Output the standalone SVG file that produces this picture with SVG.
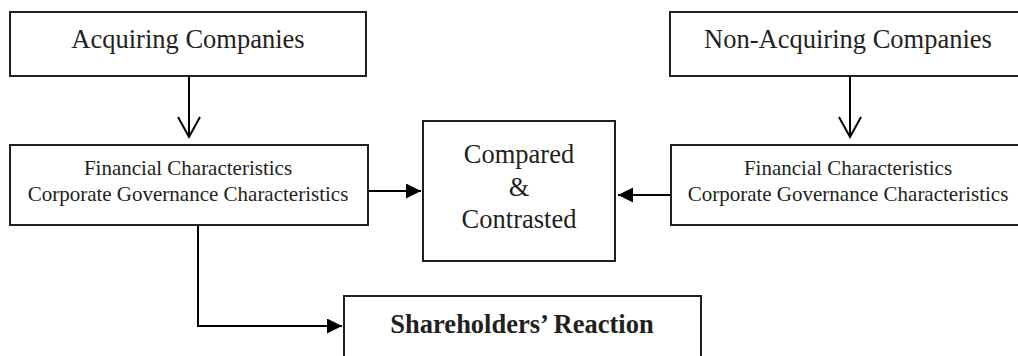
<svg xmlns="http://www.w3.org/2000/svg" width="1018" height="356" viewBox="0 0 1018 356">
<style>
.box{fill:#fff;stroke:#231f20;stroke-width:2}
.t{font-family:"Liberation Serif","Times New Roman",serif;fill:#231f20;text-anchor:middle}
.big{font-size:26.5px}
.small{font-size:21px}
.bold{font-weight:bold}
.ln{fill:none;stroke:#000;stroke-width:2}
</style>
<defs>
<marker id="open" markerWidth="24" markerHeight="26" refX="21" refY="12" orient="auto" markerUnits="userSpaceOnUse" viewBox="0 0 24 26">
<path d="M1,1 L21,12 L1,23" fill="none" stroke="#000" stroke-width="2"/>
</marker>
<marker id="fill" markerWidth="16" markerHeight="16" refX="15" refY="7.5" orient="auto" markerUnits="userSpaceOnUse" viewBox="0 0 16 16">
<path d="M0,0 L15,7.5 L0,15 Z" fill="#000"/>
</marker>
</defs>
<rect width="1018" height="356" fill="#fff"/>
<g id="connectors">
<line class="ln" x1="189" y1="77" x2="189" y2="137" marker-end="url(#open)"/>
<line class="ln" x1="850" y1="77" x2="850" y2="137" marker-end="url(#open)"/>
<line class="ln" x1="369" y1="191" x2="421" y2="191" marker-end="url(#fill)"/>
<line class="ln" x1="670" y1="195" x2="618" y2="195" marker-end="url(#fill)"/>
<path class="ln" d="M198,226 V326 H342" marker-end="url(#fill)"/>
</g>
<g id="acquiring">
<rect class="box" x="10" y="12" width="356" height="64"/>
<text class="t big" x="188" y="48">Acquiring Companies</text>
</g>
<g id="non-acquiring">
<rect class="box" x="670" y="12" width="360" height="64"/>
<text class="t big" x="848" y="48">Non-Acquiring Companies</text>
</g>
<g id="acq-characteristics">
<rect class="box" x="10" y="145" width="358" height="80"/>
<text class="t small" x="188" y="175">Financial Characteristics</text>
<text class="t small" x="188" y="201">Corporate Governance Characteristics</text>
</g>
<g id="nonacq-characteristics">
<rect class="box" x="671" y="145" width="360" height="80"/>
<text class="t small" x="848" y="175">Financial Characteristics</text>
<text class="t small" x="848" y="201">Corporate Governance Characteristics</text>
</g>
<g id="compared">
<rect class="box" x="423" y="121" width="192" height="140"/>
<text class="t big" x="519" y="163">Compared</text>
<text class="t big" x="519" y="196">&amp;</text>
<text class="t big" x="519" y="228">Contrasted</text>
</g>
<g id="shareholders">
<rect class="box" x="344" y="296" width="357" height="80"/>
<text class="t big bold" x="522" y="333">Shareholders’ Reaction</text>
</g>
</svg>
